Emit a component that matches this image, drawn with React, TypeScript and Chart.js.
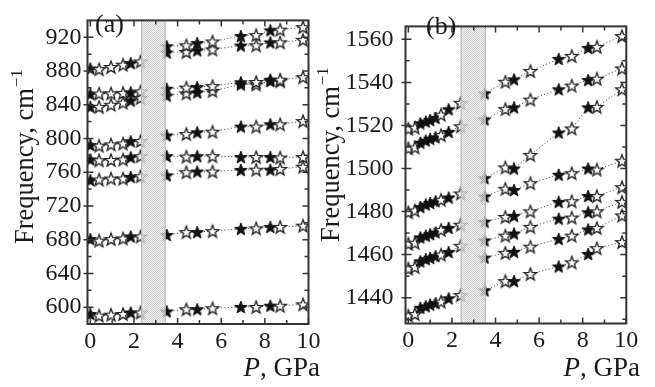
import React, { useEffect, useRef } from 'react';
import { Chart, registerables } from 'chart.js';
Chart.register(...registerables);

const FONT = "'Liberation Serif', 'Times New Roman', serif";
const TXT = '#1a1a1a';

// ---------- Panel (a) ----------
const pressA_left = [0, 0.4, 0.95, 1.5, 1.85, 2.3];
const pressA_right = [3.5, 4.4, 4.9, 5.6, 6.9, 7.6, 8.25, 8.7, 9.75];
const filledA_left = [1, 0, 0, 0, 1, 0];
const filledA_right = [1, 0, 1, 0, 1, 0, 1, 0, 0];

const aL1 = [883, 882.2, 884.8, 887.5, 889.4, 891.3];
const aL2 = [852.7, 853.3, 853.5, 854, 854.8, 855.8];
const aL3 = [837.5, 837.5, 840, 842.5, 845, 848];
const aL4 = [792.2, 791.5, 793, 794.1, 796.7, 797];
const aL5 = [775.2, 774.1, 774.5, 775.2, 777.8, 779];
const aL6 = [750.6, 751.4, 752.5, 752.5, 754.4, 755.2];
const aL7 = [680.7, 678.8, 680.7, 681.5, 683.8, 683.8];
const aL8 = [591.9, 590, 591.1, 591.9, 593.7, 593.7];

const aR1 = [909.4, 910.5, 913.2, 915, 921.5, 922.6, 928.3, 929, 932];
const aR2 = [901.9, 902.6, 904.5, 905.6, 910.2, 910.5, 913.9, 914, 917];
const aR3 = [859, 860.3, 861, 862.2, 866.7, 867, 869.7, 869.7, 872.7];
const aR4 = [850.8, 853.5, 854.6, 856.5, 864, 864, 868, 868, null];
const aR5 = [803.6, 805.4, 807.3, 808.1, 814.1, 814.1, 816.8, 816.8, 820.6];
const aR6 = [779, 778.5, 779, 779, 778, 778, 778, 777.5, 778];
const aR7 = [756.3, 760, 760.8, 760.8, 762.7, 763, 763, 763.9, 766.5];
const aR8 = [685.6, 689, 689, 690.2, 692.8, 693.5, 695.1, 695.1, 696.6];
const aR9 = [594.9, 597.5, 597.5, 598.7, 600.2, 600.2, 601.7, 601.7, 603.3];

const aLeftRows = [aL1, aL2, aL3, aL4, aL5, aL6, aL7, aL8];
const aRightRows = [aR1, aR2, aR3, aR4, aR5, aR6, aR7, aR8, aR9];

// ---------- Panel (b) ----------
const pressB_left = [0, 0.3, 0.55, 0.8, 1.0, 1.25, 1.5, 1.85, 2.4];
const pressB_right = [3.5, 4.45, 4.85, 5.6, 6.9, 7.5, 8.25, 8.65, 9.8];
const filledB_left = [0, 0, 1, 1, 1, 1, 0, 1, 0];
const filledB_right = [1, 0, 1, 0, 1, 0, 1, 0, 0];

const bL1 = [1518.5, 1519, 1521, 1521.8, 1522.5, 1523.5, 1525, 1527.5, 1530.5];
const bL2 = [1509.4, 1509.8, 1512, 1513, 1513.8, 1514.5, 1515.5, 1517, 1519.6];
const bL3 = [1479.7, 1480.5, 1482.1, 1483.3, 1484, 1484.8, 1485.5, 1486.5, 1488.4];
const bL4 = [1465.1, 1465.5, 1468, 1468.8, 1469.5, 1470.3, 1471.5, 1472.4, 1473.9];
const bL5 = [1453.5, 1454.2, 1456.9, 1457.9, 1458.5, 1459.3, 1460, 1461.2, 1464.1];
const bL6 = [1431.7, 1432.4, 1435.3, 1436, 1436.8, 1437.5, 1438.2, 1439.7, 1441.2];

const bR1 = [1534.9, 1540.3, 1541.4, 1545.3, 1550.9, 1552.3, 1556, 1556.5, 1561.5];
const bR2 = [1522.8, 1527.6, 1528.4, 1532, 1536.8, 1538.5, 1541.1, 1541.7, 1546.5];
const bR3 = [1495.5, 1500.5, 1500, 1506.3, 1516.7, 1518.6, 1528.4, 1528.6, 1536.8];
const bR4 = [1487, 1490.6, 1490, 1493.2, 1497.1, 1497.8, 1500, 1499.5, 1503.6];
const bR5 = [1475.3, 1477.5, 1478, 1480.1, 1484.5, 1484.8, 1487.2, 1487.2, 1491.3];
const bR6 = [1466.6, 1468.8, 1469.8, 1472.9, 1476.7, 1477.2, 1479.7, 1480.1, 1484.5];
const bR7 = [1458.6, 1460.8, 1461.3, 1463.7, 1467.3, 1468.8, 1471.7, 1472.4, 1478.2];
const bR8 = [1443.4, 1447.7, 1447.7, 1451, 1454.5, 1456.4, 1460.3, 1463, 1465.8];

const bLeftRows = [bL1, bL2, bL3, bL4, bL5, bL6];
const bRightRows = [bR1, bR2, bR3, bR4, bR5, bR6, bR7, bR8];

// ---------- axes ----------
const xTicks = [0, 2, 4, 6, 8, 10];
const xMinorTicks = [1, 3, 5, 7, 9];
const yTicksA = [600, 640, 680, 720, 760, 800, 840, 880, 920];
const yMinorA = [620, 660, 700, 740, 780, 820, 860, 900];
const yTicksB = [1440, 1460, 1480, 1500, 1520, 1540, 1560];
const yMinorB = [1430, 1450, 1470, 1490, 1510, 1530, 1550];
const bandA = [2.33, 3.45];
const bandB = [2.4, 3.55];
const yTitleMain = 'Frequency, cm';
const yTitleSup = '\u22121';
const xTitleVar = 'P';
const xTitleUnit = ', GPa';

function makeStar(filled: boolean, R: number) {
  const size = Math.ceil(2 * R + 4);
  const c = document.createElement('canvas');
  c.width = size;
  c.height = size;
  const g = c.getContext('2d')!;
  const cx = size / 2;
  const cy = size / 2 + R * 0.1;
  const r = R * 0.42;
  g.beginPath();
  for (let i = 0; i < 10; i++) {
    const ang = -Math.PI / 2 + (i * Math.PI) / 5;
    const rad = i % 2 === 0 ? R : r;
    const x = cx + rad * Math.cos(ang);
    const y = cy + rad * Math.sin(ang);
    if (i === 0) g.moveTo(x, y);
    else g.lineTo(x, y);
  }
  g.closePath();
  g.lineJoin = 'miter';
  if (filled) {
    g.fillStyle = '#111';
    g.fill();
    g.strokeStyle = '#111';
    g.lineWidth = 1;
    g.stroke();
  } else {
    g.fillStyle = '#fff';
    g.fill();
    g.strokeStyle = '#222';
    g.lineWidth = 1.35;
    g.stroke();
  }
  return c;
}

function makePattern(ctx: CanvasRenderingContext2D) {
  const c = document.createElement('canvas');
  c.width = 2;
  c.height = 2;
  const g = c.getContext('2d')!;
  g.fillStyle = '#f4f4f4';
  g.fillRect(0, 0, 2, 2);
  g.fillStyle = '#c2c2c2';
  g.fillRect(0, 0, 1, 1);
  g.fillRect(1, 1, 1, 1);
  return ctx.createPattern(c, 'repeat');
}

type PanelCfg = {
  id: string;
  left: number;
  width: number;
  plotLeft: number;
  plotRight: number;
  xAxisH: number;
  yMin: number;
  yMax: number;
  yTicks: number[];
  yMinor: number[];
  yLabelPad: number;
  band: number[];
  pressLeft: number[];
  pressRight: number[];
  filledLeft: number[];
  filledRight: number[];
  leftRows: (number | null)[][];
  rightRows: (number | null)[][];
  yTitleX: number;
  yTitleBottom: number;
  label: string;
  labelX: number;
  labelY: number;
  xTitleRight: number;
  xTitleY: number;
};

function buildDatasets(cfg: PanelCfg, starF: HTMLCanvasElement, starO: HTMLCanvasElement) {
  const ds: any[] = [];
  const mk = (press: number[], filled: number[], row: (number | null)[]) => {
    const pts: any[] = [];
    press.forEach((p, i) => {
      const v = row[i];
      if (v !== null && v !== undefined) pts.push({ x: p, y: v, f: filled[i] });
    });
    return {
      data: pts,
      borderColor: '#555',
      borderWidth: 1,
      borderDash: [1.2, 2.2],
      fill: false,
      tension: 0,
      pointStyle: (c: any) => (c.raw && c.raw.f ? starF : starO),
      pointRadius: 6,
      pointHoverRadius: 6,
    };
  };
  cfg.leftRows.forEach((r) => ds.push(mk(cfg.pressLeft, cfg.filledLeft, r)));
  cfg.rightRows.forEach((r) => ds.push(mk(cfg.pressRight, cfg.filledRight, r)));
  return ds;
}

function Panel({ cfg }: { cfg: PanelCfg }) {
  const ref = useRef<HTMLCanvasElement>(null);
  useEffect(() => {
    const canvas = ref.current!;
    const starF = makeStar(true, 6.6);
    const starO = makeStar(false, 6.6);
    const decor = {
      id: 'decor_' + cfg.id,
      afterDatasetsDraw(chart: any) {
        const { ctx, chartArea: ca, scales } = chart;
        const x = scales.x;
        const x0 = x.getPixelForValue(cfg.band[0]);
        const x1 = x.getPixelForValue(cfg.band[1]);
        ctx.save();
        ctx.globalAlpha = 0.8;
        ctx.fillStyle = makePattern(ctx);
        ctx.fillRect(x0, ca.top, x1 - x0, ca.bottom - ca.top);
        ctx.globalAlpha = 1;
        ctx.strokeStyle = '#b0b0b0';
        ctx.lineWidth = 1;
        ctx.beginPath();
        ctx.moveTo(x0 + 0.5, ca.top);
        ctx.lineTo(x0 + 0.5, ca.bottom);
        ctx.moveTo(x1 - 0.5, ca.top);
        ctx.lineTo(x1 - 0.5, ca.bottom);
        ctx.stroke();
        ctx.restore();
      },
      afterDraw(chart: any) {
        const { ctx, chartArea: ca, scales } = chart;
        const x = scales.x;
        const y = scales.y;
        ctx.save();
        ctx.strokeStyle = '#333';
        ctx.lineWidth = 1.5;
        ctx.beginPath();
        const tick = (px: number, len: number, horiz: boolean, out: number) => {
          if (horiz) {
            ctx.moveTo(px, ca.bottom + out);
            ctx.lineTo(px, ca.bottom - len);
            ctx.moveTo(px, ca.top);
            ctx.lineTo(px, ca.top + len);
          } else {
            ctx.moveTo(ca.left - out, px);
            ctx.lineTo(ca.left + len, px);
            ctx.moveTo(ca.right, px);
            ctx.lineTo(ca.right - len, px);
          }
        };
        xTicks.forEach((v) => tick(x.getPixelForValue(v), 6, true, 0));
        xMinorTicks.forEach((v) => tick(x.getPixelForValue(v), 4, true, 0));
        cfg.yTicks.forEach((v) => tick(y.getPixelForValue(v), 6, false, 4));
        cfg.yMinor.forEach((v) => tick(y.getPixelForValue(v), 4, false, 0));
        ctx.stroke();
        ctx.lineWidth = 2;
        ctx.strokeStyle = '#333';
        ctx.strokeRect(ca.left, ca.top, ca.right - ca.left, ca.bottom - ca.top);

        ctx.fillStyle = TXT;
        ctx.textBaseline = 'alphabetic';
        ctx.textAlign = 'left';
        ctx.font = `26px ${FONT}`;
        ctx.fillText(cfg.label, cfg.labelX, cfg.labelY);

        // x title
        ctx.font = `27px ${FONT}`;
        const wRest = ctx.measureText(xTitleUnit).width;
        ctx.font = `italic 27px ${FONT}`;
        const wP = ctx.measureText(xTitleVar).width;
        const startX = cfg.xTitleRight - wRest - wP;
        ctx.fillText(xTitleVar, startX, cfg.xTitleY);
        ctx.font = `27px ${FONT}`;
        ctx.fillText(xTitleUnit, startX + wP, cfg.xTitleY);

        // y title (rotated)
        ctx.save();
        ctx.translate(cfg.yTitleX, cfg.yTitleBottom);
        ctx.rotate(-Math.PI / 2);
        ctx.font = `26.5px ${FONT}`;
        ctx.fillText(yTitleMain, 0, 0);
        const wMain = ctx.measureText(yTitleMain).width;
        ctx.font = `17px ${FONT}`;
        ctx.fillText(yTitleSup, wMain + 1, -11);
        ctx.restore();

        ctx.restore();
      },
    };
    const chart = new Chart(canvas, {
      type: 'line',
      data: { datasets: buildDatasets(cfg, starF, starO) },
      options: {
        animation: false,
        responsive: false,
        maintainAspectRatio: false,
        layout: { padding: { top: 7, right: cfg.width - cfg.plotRight, left: 0, bottom: 0 } },
        plugins: { legend: { display: false }, tooltip: { enabled: false } },
        events: [],
        scales: {
          x: {
            type: 'linear',
            min: -0.13,
            max: 10,
            grid: { display: false, drawTicks: false },
            border: { display: false },
            ticks: {
              font: { family: FONT, size: 24 },
              color: TXT,
              padding: 3,
              maxRotation: 0,
              autoSkip: false,
              callback: (v: any) => String(v),
            },
            afterBuildTicks: (s: any) => {
              s.ticks = xTicks.map((v) => ({ value: v }));
            },
            afterFit: (s: any) => {
              s.height = cfg.xAxisH;
            },
          },
          y: {
            type: 'linear',
            min: cfg.yMin,
            max: cfg.yMax,
            grid: { display: false, drawTicks: false },
            border: { display: false },
            ticks: {
              font: { family: FONT, size: 24 },
              color: TXT,
              padding: cfg.yLabelPad,
              autoSkip: false,
              callback: (v: any) => String(v),
            },
            title: { display: false },
            afterBuildTicks: (s: any) => {
              s.ticks = cfg.yTicks.map((v) => ({ value: v }));
            },
            afterFit: (s: any) => {
              s.width = cfg.plotLeft;
            },
          },
        },
      } as any,
      plugins: [decor],
    });
    return () => chart.destroy();
  }, []);
  return (
    <canvas
      ref={ref}
      width={cfg.width}
      height={387}
      style={{ position: 'absolute', left: cfg.left, top: 0, width: cfg.width, height: 387 }}
    />
  );
}

const panelA: PanelCfg = {
  id: 'a',
  left: 0,
  width: 330,
  plotLeft: 87.5,
  plotRight: 308.5,
  xAxisH: 63,
  yMin: 580,
  yMax: 940,
  yTicks: yTicksA,
  yMinor: yMinorA,
  yLabelPad: 6,
  band: bandA,
  pressLeft: pressA_left,
  pressRight: pressA_right,
  filledLeft: filledA_left,
  filledRight: filledA_right,
  leftRows: aLeftRows,
  rightRows: aRightRows,
  yTitleX: 33,
  yTitleBottom: 244,
  label: '(a)',
  labelX: 95,
  labelY: 32,
  xTitleRight: 320,
  xTitleY: 376,
};

const panelB: PanelCfg = {
  id: 'b',
  left: 300,
  width: 355,
  plotLeft: 105.5,
  plotRight: 326.3,
  xAxisH: 63.5,
  yMin: 1428,
  yMax: 1566,
  yTicks: yTicksB,
  yMinor: yMinorB,
  yLabelPad: 12,
  band: bandB,
  pressLeft: pressB_left,
  pressRight: pressB_right,
  filledLeft: filledB_left,
  filledRight: filledB_right,
  leftRows: bLeftRows,
  rightRows: bRightRows,
  yTitleX: 39,
  yTitleBottom: 242,
  label: '(b)',
  labelX: 126,
  labelY: 34,
  xTitleRight: 340,
  xTitleY: 376,
};

export default function App() {
  return (
    <div style={{ position: 'absolute', left: 0, top: 0, width: 655, height: 387, background: '#fff' }}>
      <Panel cfg={panelA} />
      <Panel cfg={panelB} />
    </div>
  );
}
